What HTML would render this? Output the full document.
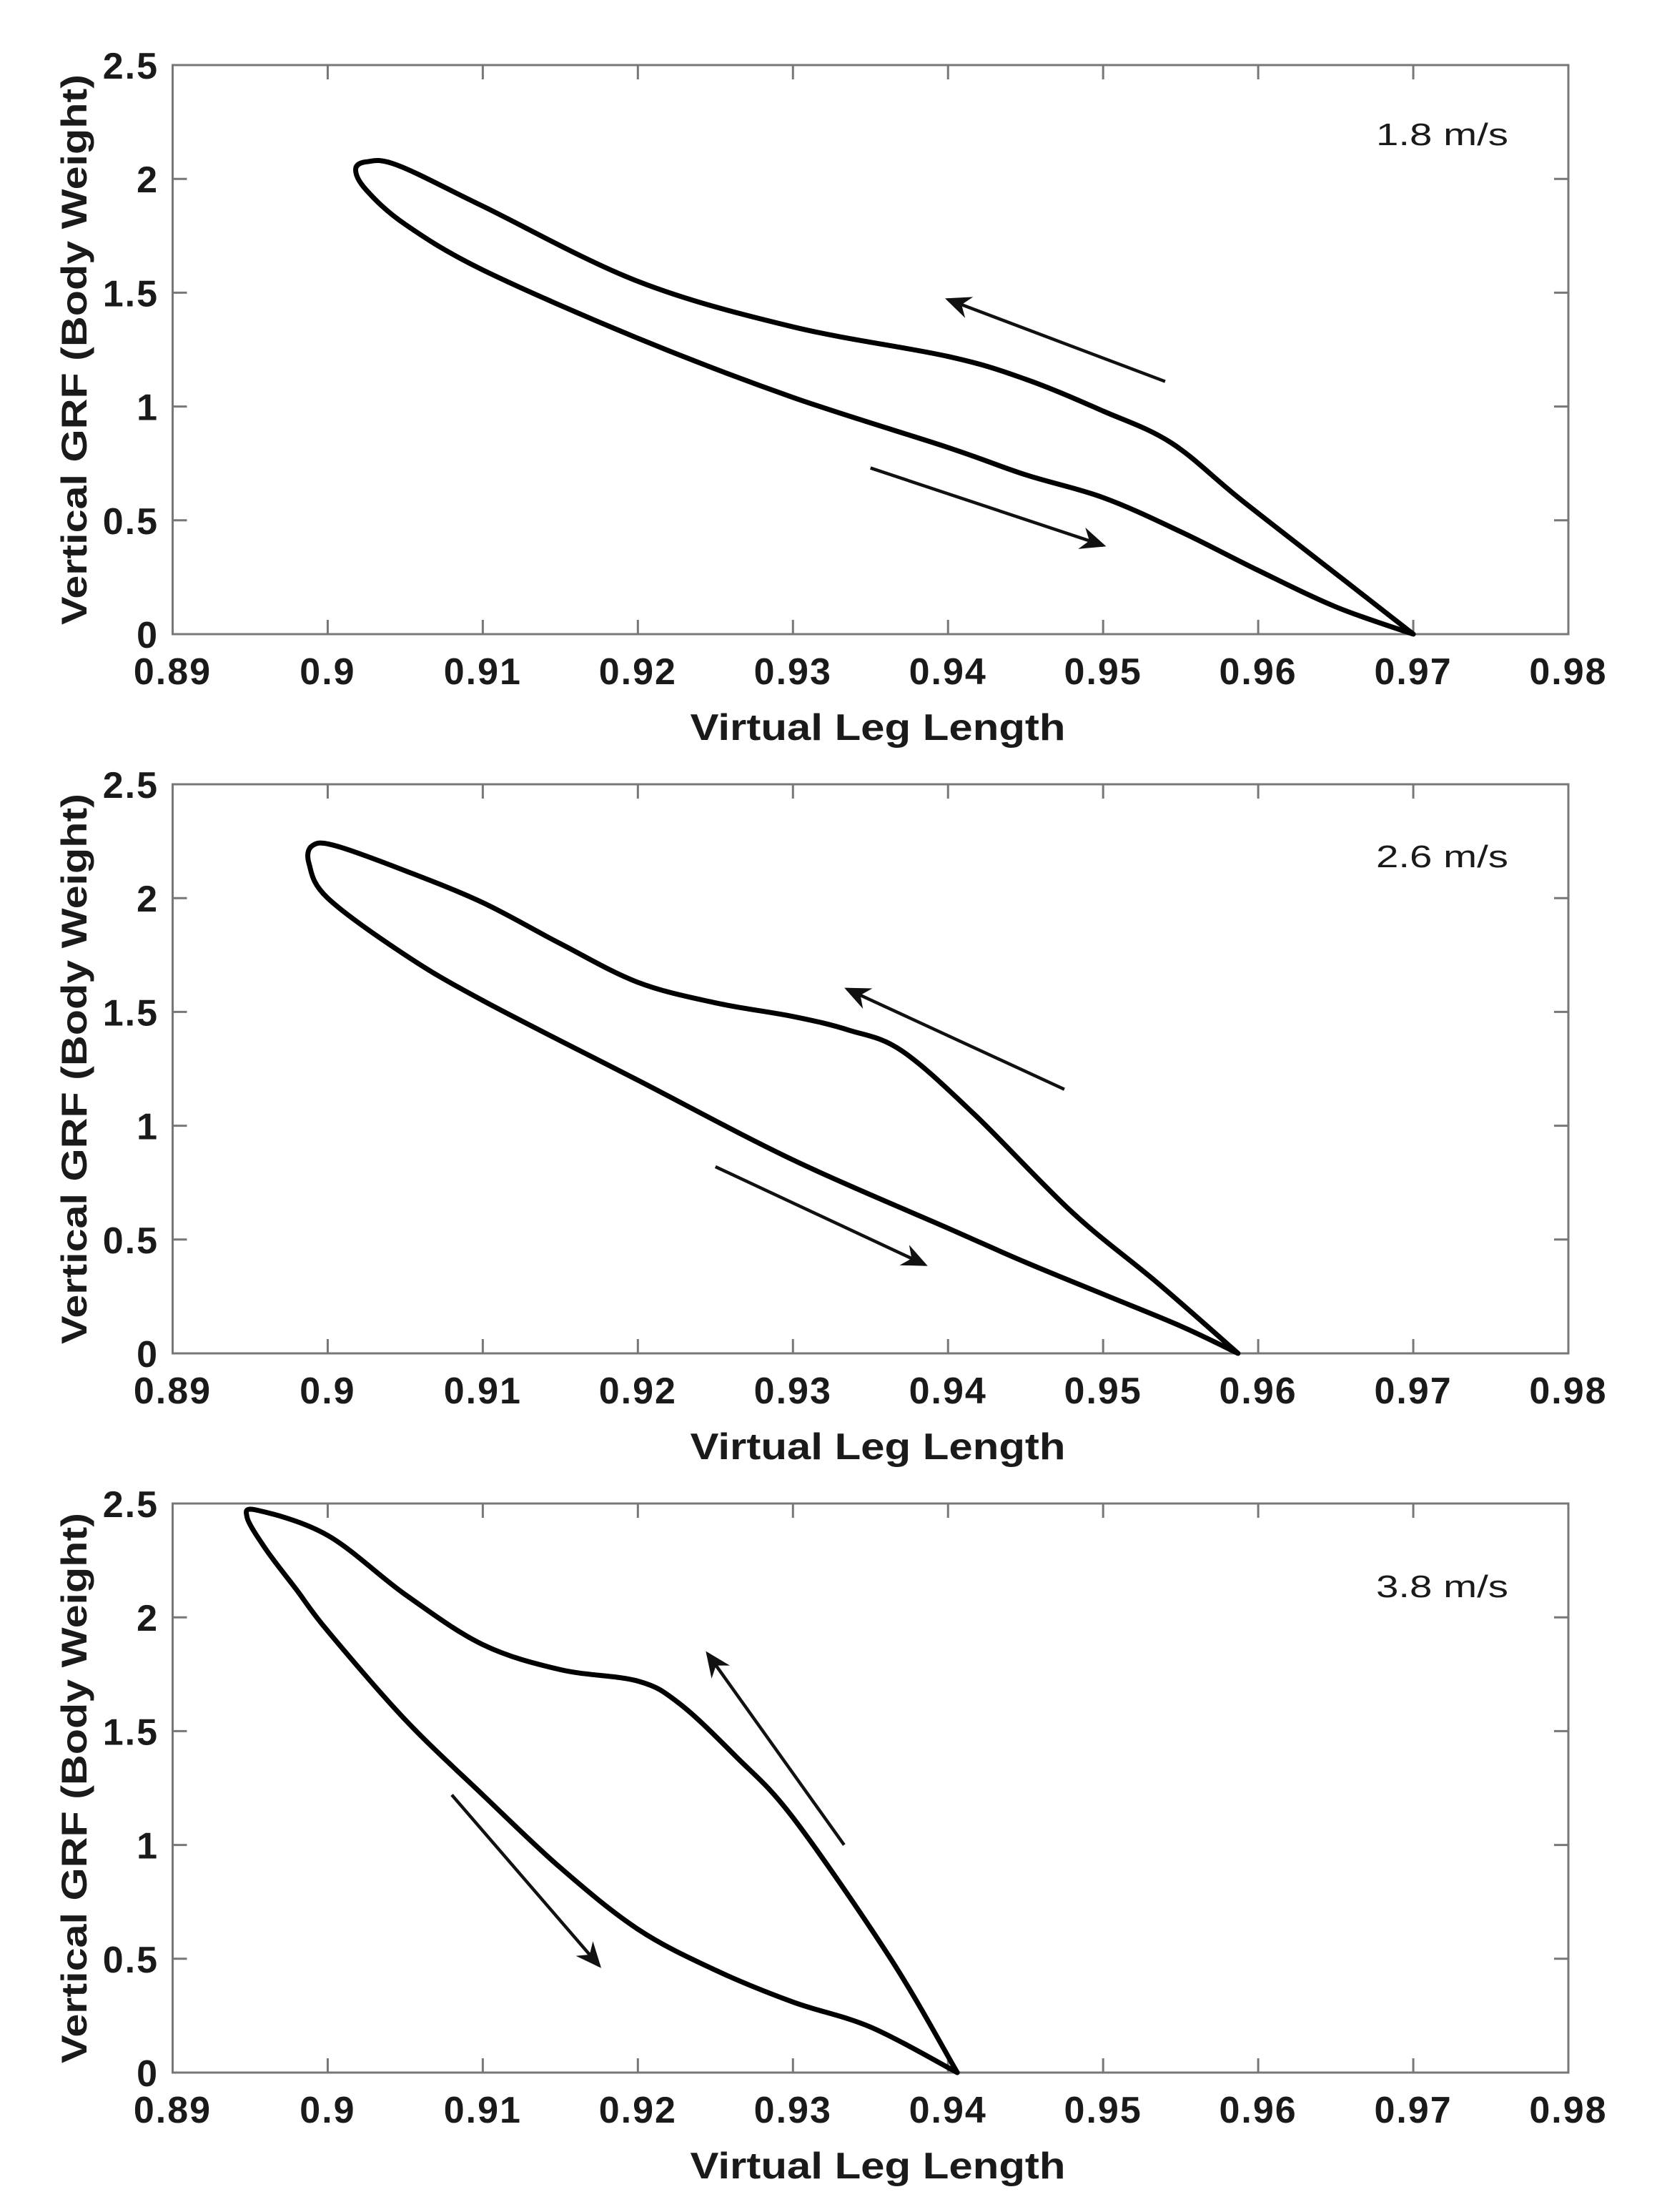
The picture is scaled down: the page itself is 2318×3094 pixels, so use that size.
<!DOCTYPE html>
<html><head><meta charset="utf-8"><style>
html,body{margin:0;padding:0;background:#fff}
svg{display:block}
text{font-family:"Liberation Sans",Arial,sans-serif;fill:#1a1a1a}
</style></head>
<body>
<svg id="fig" width="2318" height="3094" viewBox="0 0 2318 3094" xmlns="http://www.w3.org/2000/svg"></svg>
<script>
const xTicks=[0.89,0.9,0.91,0.92,0.93,0.94,0.95,0.96,0.97,0.98];
const xTickLabels=["0.89","0.9","0.91","0.92","0.93","0.94","0.95","0.96","0.97","0.98"];
const yTicks=[0,0.5,1,1.5,2,2.5];
const yTickLabels=["0","0.5","1","1.5","2","2.5"];
const speeds=["1.8 m/s","2.6 m/s","3.8 m/s"];
const lower1X=[0.970,0.965,0.960,0.955,0.950,0.945,0.940,0.930,0.920,0.910,0.905,0.9025,0.9018];
const lower1Y=[0,0.12,0.28,0.45,0.60,0.70,0.82,1.04,1.30,1.60,1.80,1.95,2.04];
const upper1X=[0.9025,0.9045,0.910,0.920,0.930,0.940,0.945,0.950,0.9544,0.9589,0.9653,0.970];
const upper1Y=[2.075,2.06,1.88,1.55,1.35,1.22,1.12,0.98,0.84,0.59,0.25,0];
const lower2X=[0.9587,0.955,0.950,0.945,0.940,0.930,0.920,0.910,0.905,0.900,0.8988,0.899];
const lower2Y=[0,0.12,0.26,0.40,0.55,0.85,1.20,1.55,1.75,2.00,2.15,2.23];
const upper2X=[0.9005,0.905,0.910,0.915,0.920,0.925,0.930,0.9336,0.937,0.9417,0.948,0.9535,0.9587];
const upper2Y=[2.23,2.12,1.98,1.80,1.63,1.54,1.48,1.42,1.33,1.05,0.62,0.31,0];
const lower3X=[0.9406,0.935,0.930,0.925,0.920,0.915,0.910,0.905,0.900,0.898,0.896,0.8948];
const lower3Y=[0,0.20,0.31,0.45,0.63,0.90,1.22,1.55,1.94,2.12,2.30,2.44];
const upper3X=[0.8955,0.900,0.905,0.910,0.915,0.920,0.9227,0.9263,0.930,0.9363,0.9406];
const upper3Y=[2.47,2.36,2.10,1.88,1.77,1.72,1.62,1.39,1.12,0.50,0];
const arrowsUp=[[0.954,1.11,0.940,1.47],[0.9475,1.16,0.9335,1.60],[0.9333,1.00,0.9245,1.84]];
const arrowsDown=[[0.935,0.73,0.950,0.39],[0.925,0.82,0.9385,0.39],[0.908,1.22,0.9175,0.47]];

const NS="http://www.w3.org/2000/svg";
const svg=document.getElementById('fig');
const L=241.5,R=2194,H=796;
const tops=[91,1097,2103];
const labelOff=[96,100,115];
const data=[[lower1X,lower1Y,upper1X,upper1Y],[lower2X,lower2Y,upper2X,upper2Y],[lower3X,lower3Y,upper3X,upper3Y]];
function mk(tag,attrs,parent){const e=document.createElementNS(NS,tag);for(const k in attrs)e.setAttribute(k,attrs[k]);(parent||svg).appendChild(e);return e;}
function smooth(pts){
  let d='M'+pts[0][0].toFixed(1)+','+pts[0][1].toFixed(1);
  const n=pts.length;
  for(let i=0;i<n-1;i++){
    const p0=pts[Math.max(0,i-1)],p1=pts[i],p2=pts[i+1],p3=pts[Math.min(n-1,i+2)];
    const c1=[p1[0]+(p2[0]-p0[0])/6,p1[1]+(p2[1]-p0[1])/6];
    const c2=[p2[0]-(p3[0]-p1[0])/6,p2[1]-(p3[1]-p1[1])/6];
    d+='C'+c1.map(v=>v.toFixed(1)).join(',')+' '+c2.map(v=>v.toFixed(1)).join(',')+' '+p2[0].toFixed(1)+','+p2[1].toFixed(1);
  }
  return d;
}
const defs=mk('defs',{});
const mrk=mk('marker',{id:'ah',markerWidth:'8',markerHeight:'8',refX:'7',refY:'4',orient:'auto',markerUnits:'strokeWidth'},defs);
mk('path',{d:'M0,0.5 L8,4 L0,7.5 L2.5,4 Z',fill:'#111'},mrk);

tops.forEach((T,p)=>{
  const sx=v=>L+(v-0.89)/0.09*(R-L);
  const sy=v=>T+H-v/2.5*H;
  const g=mk('g',{});
  
  
  const box=mk('rect',{x:L,y:T,width:R-L,height:H,fill:'none',stroke:'#777','stroke-width':3},g);
  
  
  xTicks.forEach((v,i)=>{
    const x=sx(v);
    mk('line',{x1:x,y1:T+H,x2:x,y2:T+H-20,stroke:'#777','stroke-width':3},g);
    mk('line',{x1:x,y1:T,x2:x,y2:T+20,stroke:'#777','stroke-width':3},g);
    const t=mk('text',{x:x,y:T+H+70,'text-anchor':'middle','font-size':52,'font-weight':'bold','letter-spacing':2},g);
    t.textContent=xTickLabels[i];
    
    
  });
  yTicks.forEach((v,i)=>{
    const y=sy(v);
    mk('line',{x1:L,y1:y,x2:L+20,y2:y,stroke:'#777','stroke-width':3},g);
    mk('line',{x1:R,y1:y,x2:R-20,y2:y,stroke:'#777','stroke-width':3},g);
    const t=mk('text',{x:222,y:y+19,'text-anchor':'end','font-size':52,'font-weight':'bold','letter-spacing':2},g);
    t.textContent=yTickLabels[i];
    
    
  });
  const yt=mk('text',{transform:`translate(121,${T+H/2}) rotate(-90)`,'text-anchor':'middle','font-size':50,'font-weight':'bold',textLength:770,lengthAdjust:'spacingAndGlyphs'},g);
  yt.textContent='Vertical GRF (Body Weight)';
  
  
  const xt=mk('text',{x:1228,y:T+H+148,'text-anchor':'middle','font-size':52,'font-weight':'bold',textLength:525,lengthAdjust:'spacingAndGlyphs'},g);
  xt.textContent='Virtual Leg Length';
  
  
  const st=mk('text',{x:2110,y:T+labelOff[p]+16,'text-anchor':'end','font-size':44,textLength:185,lengthAdjust:'spacingAndGlyphs'},g);
  st.textContent=speeds[p];
  
  
  const [lx,ly,ux,uy]=data[p];
  const pts=[];
  lx.forEach((v,i)=>pts.push([sx(v),sy(ly[i])]));
  ux.forEach((v,i)=>pts.push([sx(v),sy(uy[i])]));
  const loop=mk('path',{d:smooth(pts),fill:'none',stroke:'#000','stroke-width':7,'stroke-linejoin':'round','stroke-linecap':'round'},g);
  
  
  [arrowsUp[p],arrowsDown[p]].forEach((a,k)=>{
    const ar=mk('line',{x1:sx(a[0]),y1:sy(a[1]),x2:sx(a[2]),y2:sy(a[3]),stroke:'#111','stroke-width':4.5,'marker-end':'url(#ah)'},g);
    
    
  });
});
</script>
</body></html>
